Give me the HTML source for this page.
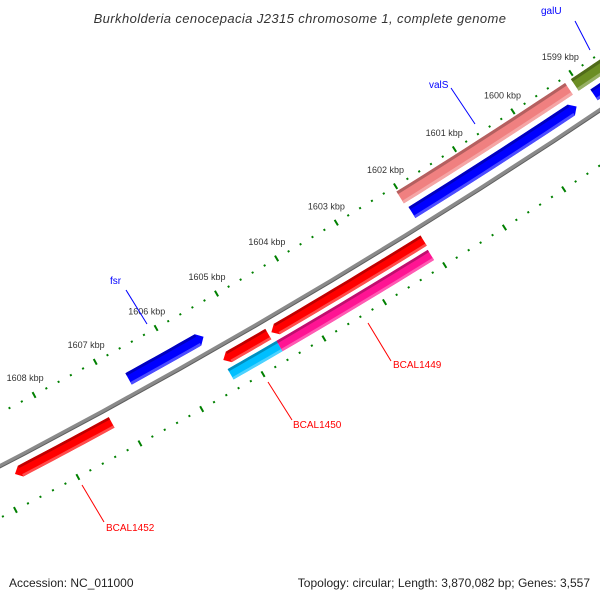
<!DOCTYPE html>
<html><head><meta charset="utf-8">
<style>
html,body{margin:0;padding:0;background:#fff;}
svg{display:block;}
text{font-family:"Liberation Sans","DejaVu Sans",sans-serif;}
</style></head>
<body>
<svg id="map" width="600" height="600" viewBox="0 0 600 600" xmlns="http://www.w3.org/2000/svg">
<rect width="600" height="600" fill="#fff"/>
<text x="300" y="23" text-anchor="middle" font-size="13" font-style="italic" fill="#333" letter-spacing="0.4">Burkholderia cenocepacia J2315 chromosome 1, complete genome</text>
<g id="rings"></g>
<g id="labels"></g>
<text x="9" y="587" font-size="12" fill="#222">Accession: NC_011000</text>
<text x="590" y="587" text-anchor="end" font-size="12" fill="#222">Topology: circular; Length: 3,870,082 bp; Genes: 3,557</text>
</svg>
<script>
// data (kbp)
const geneNames  = ["galU","blue-a","valS","blue-b","fsr-gene","BCAL1448","red-small","BCAL1452","BCAL1449","BCAL1450"];
const geneStarts = [1597.5,1597.5,1599.15,1599.2,1605.47,1602.07,1604.65,1607.21,1602.09,1604.6];
const geneEnds   = [1599.05,1598.9,1602.03,1602.0,1606.7,1604.6,1605.39,1608.77,1604.6,1605.4];
const geneRings  = ["pink","blue","pink","blue","blue","red","red","red","mag","mag"];
const geneArrows = ["none","start","none","start","start","end","end","end","none","none"];
const geneColors = ["#6b8e23","#0000ff","#f08080","#0000ff","#0000ff","#ff0000","#ff0000","#ff0000","#ff1493","#00bfff"];
const rulerStart = 1597, rulerEnd = 1610;
const majorLabels = [1599,1600,1601,1602,1603,1604,1605,1606,1607,1608];

const CX=-2953, CY=-5195, R0=6385;
const TH0=0.9922, DTH=0.01098;
const ringOff = {pink:-35, blue:-16, red:14, mag:30};
const ringW = {pink:14, blue:13, red:12, mag:12};
const NS="http://www.w3.org/2000/svg";
function ang(p){return TH0+(p-1600)*DTH;}
function pt(p,r){const a=ang(p);return [CX+r*Math.cos(a), CY+r*Math.sin(a)];}
function mk(tag,attrs,parent){const e=document.createElementNS(NS,tag);for(const k in attrs)e.setAttribute(k,attrs[k]);parent.appendChild(e);return e;}
function shade(hex,f){let n=parseInt(hex.slice(1),16);let r=n>>16,g=(n>>8)&255,b=n&255;
  if(f<1){r*=f;g*=f;b*=f;}else{const t=f-1;r+= (255-r)*t;g+=(255-g)*t;b+=(255-b)*t;}
  return "rgb("+Math.round(r)+","+Math.round(g)+","+Math.round(b)+")";}
function arcPts(p1,p2,r){const out=[];const n=12;for(let i=0;i<=n;i++){out.push(pt(p1+(p2-p1)*i/n,r));}return out;}
function poly(pts){return pts.map(q=>q[0].toFixed(2)+","+q[1].toFixed(2)).join(" ");}

const rings=document.getElementById("rings");
// backbone
const bb=arcPts(1596,1611,R0);
const bbl=mk("polyline",{points:poly(bb),fill:"none",stroke:"#8a8a8a","stroke-width":4},rings);


const bbe=mk("polyline",{points:poly(arcPts(1596,1611,R0+1.8)),fill:"none",stroke:"#5e5e5e","stroke-width":1},rings);



// rulers
[[-47,"inner"],[46,"outer"]].forEach(([off,nm])=>{
  const g=mk("g",{},rings);
  
  
  for(let k=Math.round(rulerStart*5);k<=Math.round(rulerEnd*5);k++){
    const p=k/5; const major=(k%5===0);
    const h=major?3.2:1;
    const a=pt(p,R0+off-h), b=pt(p,R0+off+h);
    const ln=mk("line",{x1:a[0],y1:a[1],x2:b[0],y2:b[1],stroke:"#008000","stroke-width":2},g);
    
    
  }
});

// genes
geneNames.forEach((nm,i)=>{
  const off=ringOff[geneRings[i]], w=ringW[geneRings[i]], r=R0+off;
  const s=geneStarts[i], e=geneEnds[i], col=geneColors[i];
  const ah=0.09;
  let bs=s, be=e;
  if(geneArrows[i]==="start") bs=s+ah;
  if(geneArrows[i]==="end") be=e-ah;
  const inner=arcPts(bs,be,r-w/2), outer=arcPts(bs,be,r+w/2).reverse();
  let pts=inner.slice();
  if(geneArrows[i]==="end") pts.push(pt(e,r));
  pts=pts.concat(outer);
  if(geneArrows[i]==="start") pts.push(pt(s,r));
  const g=mk("g",{},rings);
  
  
  mk("polygon",{points:poly(pts),fill:col},g);
  const dark=arcPts(bs,be,r-w/2).concat(arcPts(bs,be,r-w/2+w*0.22).reverse());
  mk("polygon",{points:poly(dark),fill:shade(col,0.75)},g);
  const light=arcPts(bs,be,r+w/2-w*0.22).concat(arcPts(bs,be,r+w/2).reverse());
  mk("polygon",{points:poly(light),fill:shade(col,1.3)},g);
});

// kbp labels
const labs=document.getElementById("labels");
majorLabels.forEach(p=>{
  const q=pt(p,R0-66);
  const t=mk("text",{x:q[0].toFixed(1),y:(q[1]+3).toFixed(1),"text-anchor":"middle","font-size":"9",fill:"#333"},labs);
  t.textContent=p+" kbp";
  
  
});

// gene labels
const geneLabels=[
  ["galU",541,14,"#0000ff",575,21,590,50],
  ["valS",429,88,"#0000ff",451,88,475,124],
  ["fsr",110,284,"#0000ff",126,290,147,324],
  ["BCAL1449",393,368,"#ff0000",368,323,391,361],
  ["BCAL1450",293,428,"#ff0000",268,382,292,420],
  ["BCAL1452",106,531,"#ff0000",82,485,104,522]
];
geneLabels.forEach(l=>{
  const g=mk("g",{},labs);
  
  
  mk("line",{x1:l[4],y1:l[5],x2:l[6],y2:l[7],stroke:l[3],"stroke-width":1},g);
  const t=mk("text",{x:l[1],y:l[2],"font-size":"10",fill:l[3]},g);
  t.textContent=l[0];
});
</script>
</body></html>
